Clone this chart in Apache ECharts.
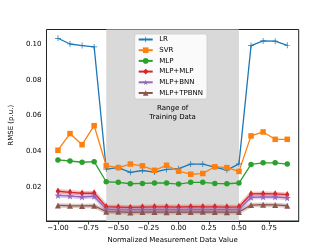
<!DOCTYPE html>
<html><head><meta charset="utf-8">
<script src="https://cdn.jsdelivr.net/npm/echarts@6/dist/echarts.min.js"></script>
<style>html,body{margin:0;padding:0;background:#fff}#c{width:332px;height:249px}</style>
</head><body><div id="c"></div>
<script>
const xValues = [-1.0,-0.9,-0.8,-0.7,-0.6,-0.5,-0.4,-0.3,-0.2,-0.1,0.0,0.1,0.2,0.3,0.4,0.5,0.6,0.7,0.8,0.9];
const lr =    [0.1032,0.1000,0.0991,0.0984,0.0302,0.0310,0.0284,0.0294,0.0285,0.0300,0.0304,0.0330,0.0330,0.0313,0.0296,0.0331,0.0991,0.1017,0.1016,0.0993];
const svr =   [0.0407,0.0500,0.0438,0.0544,0.0321,0.0310,0.0330,0.0320,0.0295,0.0323,0.0290,0.0273,0.0277,0.0315,0.0310,0.0289,0.0487,0.0509,0.0468,0.0468];
const mlp =   [0.0353,0.0347,0.0340,0.0343,0.0231,0.0228,0.0220,0.0222,0.0224,0.0224,0.0218,0.0228,0.0228,0.0222,0.0220,0.0224,0.0328,0.0337,0.0337,0.0330];
const mlpMlp =[0.0178,0.0172,0.0167,0.0168,0.0092,0.0090,0.0088,0.0090,0.0091,0.0091,0.0090,0.0092,0.0091,0.0091,0.0090,0.0091,0.0163,0.0164,0.0163,0.0159];
const mlpBnn =[0.0155,0.0151,0.0146,0.0150,0.0077,0.0075,0.0074,0.0075,0.0075,0.0075,0.0074,0.0076,0.0075,0.0075,0.0075,0.0076,0.0144,0.0146,0.0146,0.0141];
const mlpTpbnn=[0.0099,0.0097,0.0096,0.0097,0.0064,0.0063,0.0060,0.0062,0.0062,0.0061,0.0062,0.0062,0.0063,0.0062,0.0061,0.0062,0.0101,0.0103,0.0102,0.0097];
const xTicks = [-1.0,-0.75,-0.5,-0.25,0.0,0.25,0.5,0.75];
const yTicks = [0.02,0.04,0.06,0.08,0.10];
const trainRange = [-0.6, 0.5];
const names = ['LR','SVR','MLP','MLP+MLP','MLP+BNN','MLP+TPBNN'];
const colors = ['#1f77b4','#ff7f0e','#2ca02c','#d62728','#9467bd','#8c564b'];

const plusPath = 'path://M-0.12,-1 L0.12,-1 L0.12,-0.12 L1,-0.12 L1,0.12 L0.12,0.12 L0.12,1 L-0.12,1 L-0.12,0.12 L-1,0.12 L-1,-0.12 L-0.12,-0.12 Z';
const starPath = 'path://M0,-1 L0.2245,-0.309 L0.951,-0.309 L0.363,0.118 L0.588,0.809 L0,0.382 L-0.588,0.809 L-0.363,0.118 L-0.951,-0.309 L-0.2245,-0.309 Z';
const symbols = [plusPath,'rect','circle','diamond',starPath,'triangle'];
const sizes = [6,5.5,5.5,[4.5,7.5],7,6];
const dataSets = [lr,svr,mlp,mlpMlp,mlpBnn,mlpTpbnn];

const font = 'DejaVu Sans';
function pairs(arr){return xValues.map((x,i)=>[x,arr[i]]);}
function fmtX(v){return v<0?'\u2212'+(-v).toFixed(2):v.toFixed(2);}

const series = [{
  type:'line', data:[], silent:true, z:1,
  markArea:{silent:true, itemStyle:{color:'#d9d9d9'},
    label:{show:true, position:'insideTop', distance:75, formatter:'Range of\nTraining Data',
      fontFamily:font, fontSize:7, lineHeight:8.3, color:'#000', align:'center'},
    data:[[{xAxis:trainRange[0]},{xAxis:trainRange[1]}]]}
}];
[3,4,5].forEach(k=>{
  series.push({type:'line', data:pairs(dataSets[k]), showSymbol:false, silent:true, z:2,
    lineStyle:{color:colors[k], width:4.5, opacity:0.3}, itemStyle:{color:colors[k]}});
});
names.forEach((n,k)=>{
  series.push({name:n, type:'line', data:pairs(dataSets[k]), z:3,
    symbol:symbols[k], symbolSize:sizes[k], showAllSymbol:true,
    lineStyle:{color:colors[k], width:1.3}, itemStyle:{color:colors[k]}, emphasis:{disabled:true}});
});

const chart = echarts.init(document.getElementById('c'), null, {renderer:'canvas'});
chart.setOption({
  animation:false,
  textStyle:{fontFamily:font},
  grid:{left:41, right:33.3, top:29.5, bottom:28, show:true, borderColor:'#222', borderWidth:1, backgroundColor:'transparent'},
  legend:{data:names, orient:'vertical', left:134.7, top:34, itemWidth:14, itemHeight:7, itemGap:3.7,
    padding:[2,4,2.5,3], backgroundColor:'rgba(255,255,255,0.85)', borderColor:'#ccc', borderWidth:0.8, borderRadius:2,
    textStyle:{fontFamily:font, fontSize:7, color:'#000', lineHeight:7, padding:[0,0,0,1.5]}},
  xAxis:{type:'value', min:-1.095, max:0.995,
    axisLine:{show:true, onZero:false, lineStyle:{color:'#222', width:1}},
    axisTick:{show:true, length:3.5, customValues:xTicks, lineStyle:{color:'#222', width:0.8}},
    axisLabel:{customValues:xTicks, formatter:fmtX, fontFamily:font, fontSize:7, color:'#000', margin:4},
    splitLine:{show:false},
    name:'Normalized Measurement Data Value', nameLocation:'middle', nameGap:14.5,
    nameTextStyle:{fontFamily:font, fontSize:7, color:'#000'}},
  yAxis:{type:'value', min:0.0012, max:0.1081,
    axisLine:{show:true, lineStyle:{color:'#222', width:1}},
    axisTick:{show:true, length:3.5, customValues:yTicks, lineStyle:{color:'#222', width:0.8}},
    axisLabel:{customValues:yTicks, formatter:v=>v.toFixed(2), fontFamily:font, fontSize:7, color:'#000', margin:5},
    splitLine:{show:false},
    name:'RMSE (p.u.)', nameLocation:'middle', nameGap:26,
    nameTextStyle:{fontFamily:font, fontSize:7, color:'#000'}},
  series:series
});
</script></body></html>
